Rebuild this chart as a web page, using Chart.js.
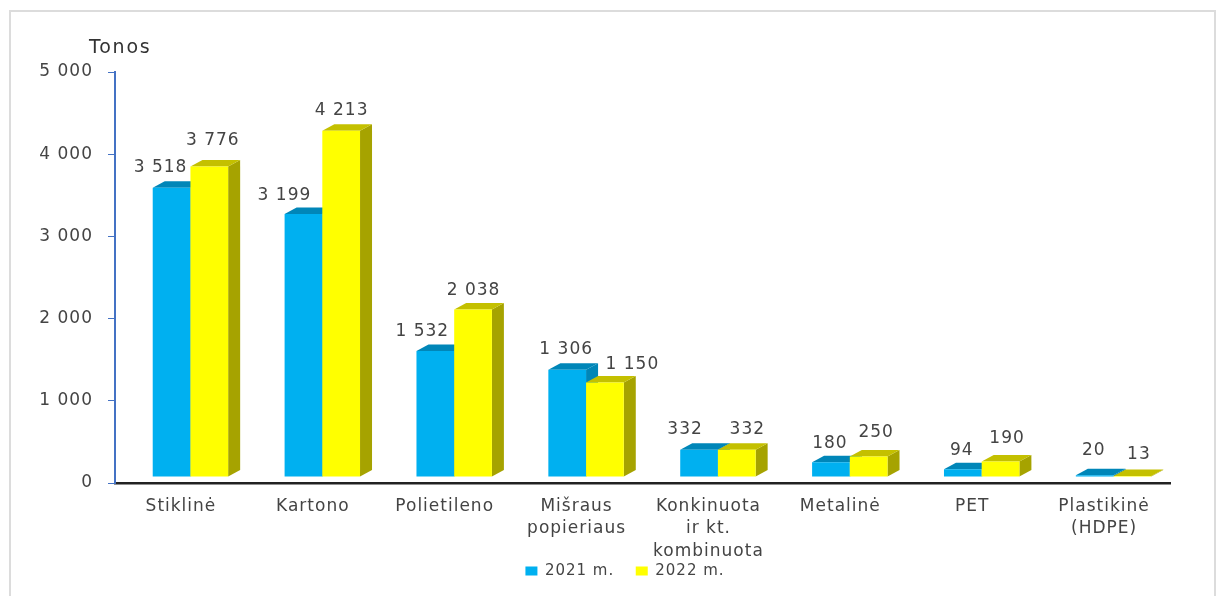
<!DOCTYPE html>
<html>
<head>
<meta charset="utf-8">
<style>
html,body{margin:0;padding:0;background:#fff;}
#wrap{position:relative;width:1222px;height:596px;overflow:hidden;}
#frame{position:absolute;left:9px;top:10px;width:1207px;height:590px;border:2px solid #dcdcdc;box-sizing:border-box;}
canvas{position:absolute;left:0;top:0;filter:blur(0.4px);}
</style>
<script src="https://cdn.jsdelivr.net/npm/chart.js@4/dist/chart.umd.min.js"></script>
</head>
<body>
<div id="wrap"><div id="frame"></div><canvas id="c" width="1222" height="596"></canvas></div>
<script>
const categories = ["Stiklinė","Kartono","Polietileno",["Mišraus","popieriaus"],["Konkinuota","ir kt.","kombinuota"],"Metalinė","PET",["Plastikinė","(HDPE)"]];
const values2021 = [3518,3199,1532,1306,332,180,94,20];
const values2022 = [3776,4213,2038,1150,332,250,190,13];
const seriesNames = ["2021 m.","2022 m."];
const yTicks = [0,1000,2000,3000,4000,5000];

const FONT = '"DejaVu Sans"';
const TEXT = '#444444';
const faces = [
  {front:'#00B0F0', top:'#0086B8', side:'#0086B8'},
  {front:'#FFFF00', top:'#C4C000', side:'#A6A300'}
];
const shift = {x:9.5, y:-6};
const depth = {x:12, y:6.5};
const labelShift = [
  [[-11,-20],[-19,-18],[-13,-19],[-1,-20],[-14,-20],[-1,-19],[-1,-19],[-1,-25]],
  [[3.5,-26],[0.5,-20],[0.5,-19],[27.5,-18],[10.5,-20],[7.5,-24],[6.5,-23],[6.5,-21]]
];
const fmt = v => String(v).replace(/\B(?=(\d{3})+$)/g,' ');

const bars3d = {
  id:'bars3d',
  beforeUpdate(chart){
    chart.ctx.letterSpacing = '1px';
  },
  beforeDatasetsDraw(chart){
    const ctx = chart.ctx;
    ctx.save();
    ctx.translate(shift.x, shift.y);
    chart.data.datasets.forEach((ds,di)=>{
      chart.getDatasetMeta(di).data.forEach(bar=>{
        const l = bar.x-bar.width/2, r = bar.x+bar.width/2, t = bar.y, b = bar.base;
        ctx.fillStyle = faces[di].side;
        ctx.beginPath();
        ctx.moveTo(r,t);ctx.lineTo(r+depth.x,t-depth.y);ctx.lineTo(r+depth.x,b-depth.y);ctx.lineTo(r,b);
        ctx.closePath();ctx.fill();
        ctx.fillStyle = faces[di].top;
        ctx.beginPath();
        ctx.moveTo(l,t);ctx.lineTo(l+depth.x,t-depth.y);ctx.lineTo(r+depth.x,t-depth.y);ctx.lineTo(r,t);
        ctx.closePath();ctx.fill();
        bar.draw(ctx);
      });
    });
    ctx.restore();
    return false;
  },
  afterDraw(chart){
    const ctx = chart.ctx;
    ctx.save();
    ctx.font = '17px '+FONT;
    ctx.fillStyle = TEXT;
    ctx.textAlign = 'center';
    ctx.textBaseline = 'middle';
    chart.data.datasets.forEach((ds,di)=>{
      chart.getDatasetMeta(di).data.forEach((bar,i)=>{
        const o = labelShift[di][i];
        ctx.fillText(fmt(ds.data[i]), bar.x+shift.x+o[0], bar.y+shift.y+o[1]);
      });
    });
    ctx.fillStyle = '#333333';
    ctx.textAlign = 'left';
    ctx.letterSpacing = '1.8px';
    ctx.font = '19px '+FONT;
    ctx.fillText('Tonos', 89, 48);
    ctx.restore();
  },
  afterLayout(chart){
    const lg = chart.legend, dx = 40, dy = -7.5;
    lg.left += dx; lg.right += dx; lg.top += dy; lg.bottom += dy;
    lg.legendHitBoxes.forEach(b=>{b.left += dx; b.top += dy;});
    chart.scales.x.bottom = 596;
  }
};

new Chart(document.getElementById('c'),{
  type:'bar',
  data:{
    labels:categories,
    datasets:[
      {label:seriesNames[0],data:values2021,backgroundColor:faces[0].front,borderWidth:0},
      {label:seriesNames[1],data:values2022,backgroundColor:faces[1].front,borderWidth:0}
    ]
  },
  plugins:[bars3d],
  options:{
    responsive:false,
    animation:false,
    layout:{padding:{left:0,right:52,top:72,bottom:0}},
    datasets:{bar:{categoryPercentage:0.572,barPercentage:1}},
    plugins:{
      tooltip:{enabled:false},
      title:{display:false},
      legend:{
        display:true,
        position:'bottom',
        labels:{
          boxWidth:12,boxHeight:9,padding:21.5,color:TEXT,
          font:{family:FONT,size:15}
        }
      }
    },
    scales:{
      x:{
        afterFit(s){s.height = 66.5;},
        grid:{display:false,drawTicks:false},
        border:{display:true,color:'#222222',width:2.5},
        ticks:{color:TEXT,font:{family:FONT,size:17,lineHeight:1.32},padding:12,maxRotation:0,minRotation:0,autoSkip:false}
      },
      y:{
        min:0,max:5000,
        afterFit(s){s.width = 115;},
        afterBuildTicks(s){s.ticks = yTicks.map(v=>({value:v}));},
        grid:{display:true,drawOnChartArea:false,drawTicks:true,tickLength:7,color:'#4472C4',lineWidth:1},
        border:{display:true,color:'#4472C4',width:2},
        ticks:{color:TEXT,font:{family:FONT,size:17},padding:15,callback:v=>fmt(v)}
      }
    }
  }
});
</script>
</body>
</html>
